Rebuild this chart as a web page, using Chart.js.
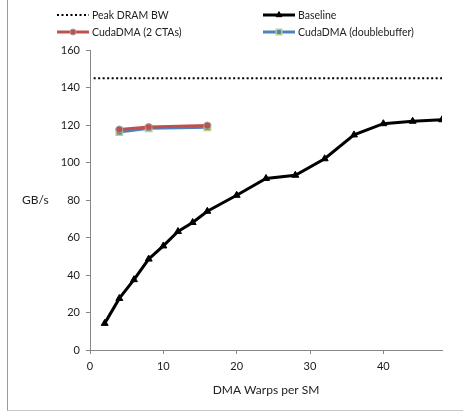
<!DOCTYPE html>
<html>
<head>
<meta charset="utf-8">
<script src="https://cdn.jsdelivr.net/npm/chart.js@4"></script>
<style>
  body { margin: 0; background: #fff; }
  #wrap { position: relative; width: 463px; height: 414px; overflow: hidden; }
  #frame { position: absolute; left: 7px; top: -2px; width: 470px; height: 412px;
           border-left: 1px solid #9a9a9a; border-bottom: 1px solid #c8c8c8; }
  canvas { position: absolute; left: 0; top: 0; }
</style>
</head>
<body>
<div id="wrap">
  <div id="frame"></div>
  <canvas id="chart" width="463" height="414"></canvas>
</div>
<script>
  // DMA warps per SM
  const warps = [2, 4, 6, 8, 10, 12, 14, 16, 20, 24, 28, 32, 36, 40, 44, 48];
  const baseline = [14.2, 27.5, 37.5, 48.5, 55.5, 63.2, 68, 74, 82.5, 91.5, 93.2, 102, 114.7, 120.7, 122, 122.8];

  const cudaWarps = [4, 8, 16];
  const twoCtas = [117.6, 118.9, 119.7];
  const doubleBuffer = [116.2, 118.2, 118.8];

  const peakRange = [0.5, 48];
  const peakBw = 145;

  const toPoints = (xs, ys) => xs.map((x, i) => ({ x: x, y: ys[i] }));

  const font = 'Lato, "Open Sans", sans-serif';

  // legend + axis titles drawn by hand (Excel style)
  const extras = {
    id: 'extras',
    afterDraw(chart) {
      const ctx = chart.ctx;
      const ds = chart.data.datasets;
      const spots = [
        { i: 0, x: 57, y: 15 },
        { i: 1, x: 263, y: 15 },
        { i: 2, x: 57, y: 32 },
        { i: 3, x: 263, y: 32 }
      ];
      ctx.save();
      spots.forEach(s => {
        const d = ds[s.i];
        ctx.strokeStyle = d.borderColor;
        ctx.lineWidth = d.borderWidth;
        ctx.setLineDash(d.borderDash || []);
        ctx.beginPath();
        ctx.moveTo(s.x, s.y);
        ctx.lineTo(s.x + 32, s.y);
        ctx.stroke();
        ctx.setLineDash([]);
        if (d.pointRadius > 0) {
          ctx.fillStyle = d.pointBackgroundColor;
          ctx.strokeStyle = d.pointBorderColor;
          ctx.lineWidth = d.pointBorderWidth;
          Chart.helpers.drawPoint(ctx, {
            pointStyle: d.pointStyle,
            radius: d.pointRadius * 0.85,
            borderWidth: d.pointBorderWidth
          }, s.x + 16, s.y);
        }
        ctx.fillStyle = '#222';
        ctx.font = '10.5px ' + font;
        ctx.textAlign = 'left';
        ctx.textBaseline = 'middle';
        ctx.fillText(d.label, s.x + 35, s.y + 1);
      });
      ctx.fillStyle = '#222';
      ctx.font = '12px ' + font;
      ctx.textAlign = 'left';
      ctx.textBaseline = 'middle';
      ctx.fillText('GB/s', 22, 200);
      ctx.textAlign = 'center';
      ctx.fillText('DMA Warps per SM', 266, 390);
      ctx.restore();
    }
  };

  new Chart(document.getElementById('chart'), {
    type: 'line',
    data: {
      datasets: [
        {
          label: 'Peak DRAM BW',
          data: toPoints(peakRange, [peakBw, peakBw]),
          borderColor: '#000',
          borderWidth: 2,
          borderDash: [2, 2.5],
          pointRadius: 0
        },
        {
          label: 'Baseline',
          data: toPoints(warps, baseline),
          borderColor: '#000',
          borderWidth: 3,
          pointStyle: 'triangle',
          pointRadius: 4,
          pointBackgroundColor: '#000',
          pointBorderColor: '#000',
          pointBorderWidth: 1
        },
        {
          label: 'CudaDMA (2 CTAs)',
          data: toPoints(cudaWarps, twoCtas),
          borderColor: '#c0504d',
          borderWidth: 3,
          pointStyle: 'circle',
          pointRadius: 3.5,
          pointBackgroundColor: '#c0504d',
          pointBorderColor: '#a0a0a0',
          pointBorderWidth: 1
        },
        {
          label: 'CudaDMA (doublebuffer)',
          data: toPoints(cudaWarps, doubleBuffer),
          borderColor: '#4f81bd',
          borderWidth: 3,
          pointStyle: 'rect',
          pointRadius: 4.5,
          pointBackgroundColor: '#4f81bd',
          pointBorderColor: '#b8d08c',
          pointBorderWidth: 1.5
        }
      ]
    },
    options: {
      responsive: false,
      animation: false,
      layout: { padding: { left: 0, top: 50, right: 21, bottom: 0 } },
      plugins: {
        legend: { display: false },
        tooltip: { enabled: false }
      },
      scales: {
        x: {
          type: 'linear',
          min: 0,
          max: 48,
          afterFit: s => { s.height = 64; },
          ticks: { stepSize: 10, includeBounds: false, padding: 6, color: '#1a1a1a', font: { family: font, size: 11 } },
          grid: { drawOnChartArea: false, tickLength: 4, color: '#868686' },
          border: { color: '#868686' }
        },
        y: {
          min: 0,
          max: 160,
          afterFit: s => { s.width = 90; },
          ticks: { stepSize: 20, padding: 6, color: '#1a1a1a', font: { family: font, size: 11 } },
          grid: { drawOnChartArea: false, tickLength: 4, color: '#868686' },
          border: { color: '#868686' }
        }
      }
    },
    plugins: [extras]
  });
</script>
</body>
</html>
